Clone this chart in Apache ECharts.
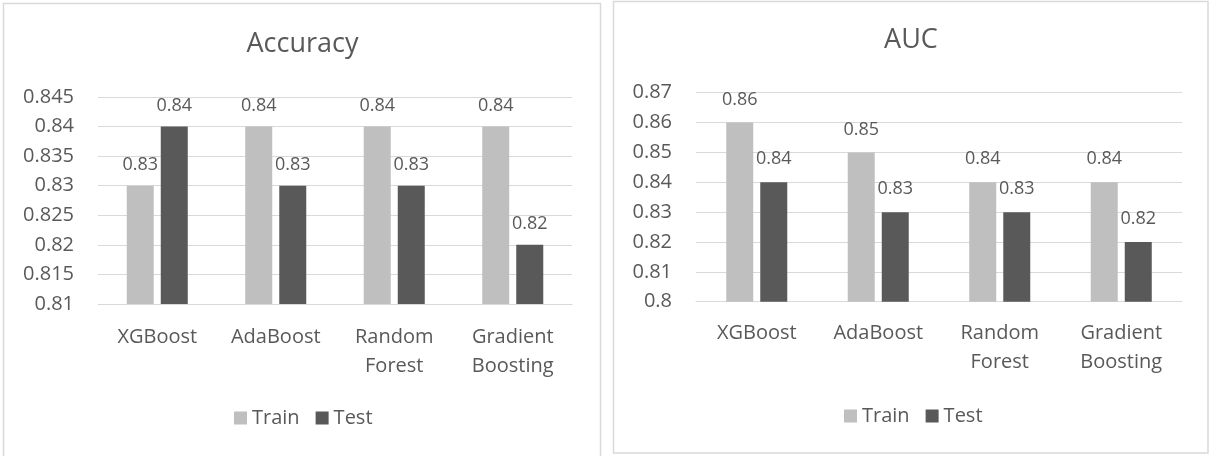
<!DOCTYPE html>
<html>
<head>
<meta charset="utf-8">
<script src="https://cdn.jsdelivr.net/npm/echarts@6/dist/echarts.min.js"></script>
<style>
  html, body { margin: 0; padding: 0; background: #ffffff; }
  #chart { width: 1212px; height: 456px; }
</style>
</head>
<body>
<div id="chart"></div>
<script>
// Model names on the category axis
const models = ['XGBoost', 'AdaBoost', 'Random\nForest', 'Gradient\nBoosting'];

// Accuracy scores
const accuracyTrain = [0.83, 0.84, 0.84, 0.84];
const accuracyTest = [0.84, 0.83, 0.83, 0.82];

// AUC scores
const aucTrain = [0.86, 0.85, 0.84, 0.84];
const aucTest = [0.84, 0.83, 0.83, 0.82];

// Value axis ranges
const accuracyAxis = { min: 0.81, max: 0.845, interval: 0.005 };
const aucAxis = { min: 0.80, max: 0.87, interval: 0.01 };

const FONT = 'Open Sans';
const TEXT = '#595959';
const GRID_LINE = '#d9d9d9';
const TRAIN_COLOR = '#bfbfbf';
const TEST_COLOR = '#595959';

const chart = echarts.init(document.getElementById('chart'), null, { renderer: 'canvas' });

function fmt(v) { return String(parseFloat(v.toFixed(3))); }

function xAxisFor(gridIndex, margin) {
  return {
    type: 'category', gridIndex, data: models,
    axisTick: { show: false },
    axisLine: { lineStyle: { color: GRID_LINE, width: 1 } },
    axisLabel: { color: TEXT, fontFamily: FONT, fontSize: 20, lineHeight: 29, margin, interval: 0 }
  };
}

function yAxisFor(gridIndex, range) {
  return {
    type: 'value', gridIndex,
    min: range.min, max: range.max, interval: range.interval,
    axisLine: { show: false }, axisTick: { show: false },
    splitLine: { lineStyle: { color: GRID_LINE, width: 1 } },
    axisLabel: { color: TEXT, fontFamily: FONT, fontSize: 20, margin: 24, formatter: fmt }
  };
}

function barSeries(name, data, color, axisIndex, distance) {
  return {
    name, type: 'bar', data,
    xAxisIndex: axisIndex, yAxisIndex: axisIndex,
    barWidth: 27, barGap: '26%',
    itemStyle: { color },
    label: {
      show: true, position: 'top', distance,
      color: TEXT, fontFamily: FONT, fontSize: 18,
      formatter: p => fmt(p.value)
    }
  };
}

const option = {
  animation: false,
  backgroundColor: '#ffffff',
  textStyle: { fontFamily: FONT },
  graphic: [
    { type: 'rect', shape: { x: 3.5, y: 3.5, width: 597, height: 460 },
      style: { fill: 'none', stroke: GRID_LINE, lineWidth: 1.5 }, silent: true },
    { type: 'rect', shape: { x: 613.5, y: 1.5, width: 594.5, height: 451.5 },
      style: { fill: 'none', stroke: GRID_LINE, lineWidth: 1.5 }, silent: true }
  ],
  title: [
    { text: 'Accuracy', left: 302.5, top: 31, textAlign: 'center', padding: 0,
      textStyle: { color: TEXT, fontFamily: FONT, fontSize: 27, fontWeight: 'normal' } },
    { text: 'AUC', left: 911, top: 27, textAlign: 'center', padding: 0,
      textStyle: { color: TEXT, fontFamily: FONT, fontSize: 27, fontWeight: 'normal' } }
  ],
  legend: [
    { left: 234, top: 408, itemWidth: 13, itemHeight: 13, itemGap: 16, padding: 0,
      icon: 'rect', data: ['Train', 'Test'],
      textStyle: { color: TEXT, fontFamily: FONT, fontSize: 20 },
      seriesIndex: [0, 1] },
    { left: 844, top: 406, itemWidth: 13, itemHeight: 13, itemGap: 16, padding: 0,
      icon: 'rect', data: ['Train', 'Test'],
      textStyle: { color: TEXT, fontFamily: FONT, fontSize: 20 } }
  ],
  grid: [
    { left: 98, right: 640, top: 97, bottom: 152, containLabel: false },
    { left: 696, right: 30, top: 92.7, bottom: 154.3, containLabel: false }
  ],
  xAxis: [xAxisFor(0, 18.5), xAxisFor(1, 17)],
  yAxis: [yAxisFor(0, accuracyAxis), yAxisFor(1, aucAxis)],
  series: [
    barSeries('Train', accuracyTrain, TRAIN_COLOR, 0, 12),
    barSeries('Test', accuracyTest, TEST_COLOR, 0, 12),
    barSeries('Train', aucTrain, TRAIN_COLOR, 1, 14),
    barSeries('Test', aucTest, TEST_COLOR, 1, 14)
  ]
};

chart.setOption(option);
</script>
</body>
</html>
